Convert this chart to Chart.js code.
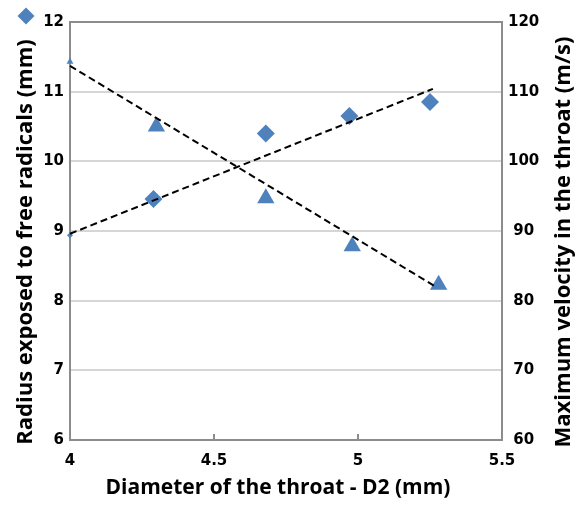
<!DOCTYPE html>
<html>
<head>
<meta charset="utf-8">
<script src="https://cdn.jsdelivr.net/npm/chart.js@4.4.0/dist/chart.umd.min.js"></script>
<style>
  body { margin: 0; background: #fff; }
  #wrap { position: relative; width: 582px; height: 506px; }
  #marker { position: absolute; left: 20px; top: 10px; width: 12px; height: 12px; background: #4f81bd; transform: rotate(45deg); }
</style>
</head>
<body>
<div id="wrap">
  <canvas id="myChart" width="582" height="506"></canvas>
  <div id="marker"></div>
</div>
<script>
// radius exposed to free radicals (left axis, diamonds)
const diameterR = [4, 4.29, 4.68, 4.97, 5.25];
const radius = [8.94, 9.46, 10.40, 10.65, 10.85];
// max velocity in the throat (right axis, triangles)
const diameterV = [4, 4.30, 4.68, 4.98, 5.28];
const velocity = [114.3, 105.0, 94.7, 87.8, 82.3];
// dashed trend lines (end points)
const trendRx = [4, 5.26];
const trendRy = [8.96, 11.04];
const trendVx = [4, 5.27];
const trendVy = [113.7, 82.0];

const xTicks = [4, 4.5, 5, 5.5];
const xTitle = 'Diameter of the throat - D2 (mm)';
const leftTitle = 'Radius exposed to free radicals (mm)';
const rightTitle = 'Maximum velocity in the throat (m/s)';

const blue = '#4f81bd';
const axisGrey = '#8c8c8c';
const tickFont = { family: 'DejaVu Sans', weight: 'bold', size: 15 };

const pts = (xs, ys) => xs.map((x, i) => ({ x: x, y: ys[i] }));

const framePlugin = {
  id: 'frame',
  beforeDatasetsDraw(chart) {
    const { ctx, chartArea: a, scales } = chart;
    ctx.save();
    ctx.strokeStyle = axisGrey;
    ctx.lineWidth = 2;
    ctx.strokeRect(a.left, a.top, a.right - a.left, a.bottom - a.top);
    // little ticks pointing into the plot
    [4.5, 5].forEach(v => {
      const px = scales.x.getPixelForValue(v);
      ctx.beginPath();
      ctx.moveTo(px, a.bottom);
      ctx.lineTo(px, a.bottom - 6);
      ctx.stroke();
    });
    ctx.restore();
  },
  afterDraw(chart) {
    const { ctx } = chart;
    ctx.save();
    ctx.fillStyle = '#000';
    ctx.textAlign = 'center';
    ctx.textBaseline = 'middle';
    ctx.font = 'bold 21px "Open Sans"';
    ctx.fillText(xTitle, 278, 488);
    // both axis titles read bottom-to-top
    ctx.font = 'bold 22px "Open Sans"';
    [[26, leftTitle], [564, rightTitle]].forEach(([x, text]) => {
      ctx.save();
      ctx.translate(x, 242);
      ctx.rotate(-Math.PI / 2);
      ctx.fillText(text, 0, 0);
      ctx.restore();
    });
    ctx.restore();
  }
};

const ctx = document.getElementById('myChart').getContext('2d');
new Chart(ctx, {
  type: 'scatter',
  data: {
    datasets: [
      {
        label: 'trend radius',
        data: pts(trendRx, trendRy),
        yAxisID: 'y',
        showLine: true,
        borderColor: '#000',
        borderWidth: 2,
        borderDash: [7, 4],
        pointRadius: 0,
        order: 0,
        clip: false
      },
      {
        label: 'trend velocity',
        data: pts(trendVx, trendVy),
        yAxisID: 'y1',
        showLine: true,
        borderColor: '#000',
        borderWidth: 2,
        borderDash: [7, 4],
        pointRadius: 0,
        order: 0,
        clip: false
      },
      {
        label: 'Radius',
        data: pts(diameterR, radius),
        yAxisID: 'y',
        pointStyle: 'rectRot',
        pointRadius: [3, 9, 9, 9, 9],
        backgroundColor: blue,
        borderColor: blue,
        borderWidth: 0,
        order: 1,
        clip: false
      },
      {
        label: 'Velocity',
        data: pts(diameterV, velocity),
        yAxisID: 'y1',
        pointStyle: 'triangle',
        pointRadius: [4, 10, 10, 10, 10],
        backgroundColor: blue,
        borderColor: blue,
        borderWidth: 0,
        order: 1,
        clip: false
      }
    ]
  },
  options: {
    responsive: false,
    animation: false,
    devicePixelRatio: 1,
    layout: { padding: { top: 22, left: 0, right: 0, bottom: 0 } },
    plugins: { legend: { display: false }, tooltip: { enabled: false } },
    scales: {
      x: {
        type: 'linear',
        min: 4,
        max: 5.5,
        afterBuildTicks: s => { s.ticks = xTicks.map(v => ({ value: v })); },
        afterFit: s => { s.height = 66; },
        grid: { display: false, drawTicks: false },
        border: { color: axisGrey, width: 2 },
        ticks: { font: tickFont, color: '#000', padding: 12, maxRotation: 0, callback: v => String(v) }
      },
      y: {
        position: 'left',
        min: 6,
        max: 12,
        afterFit: s => { s.width = 70; },
        grid: { color: '#d6d6d6', lineWidth: 2, drawTicks: false },
        border: { color: axisGrey, width: 2 },
        ticks: { stepSize: 1, font: tickFont, color: '#000', padding: 6 }
      },
      y1: {
        position: 'right',
        min: 60,
        max: 120,
        afterFit: s => { s.width = 80; },
        grid: { display: false, drawTicks: false },
        border: { color: axisGrey, width: 2 },
        ticks: { stepSize: 10, font: tickFont, color: '#000', padding: 6, crossAlign: 'center' }
      }
    }
  },
  plugins: [framePlugin]
});
</script>
</body>
</html>
